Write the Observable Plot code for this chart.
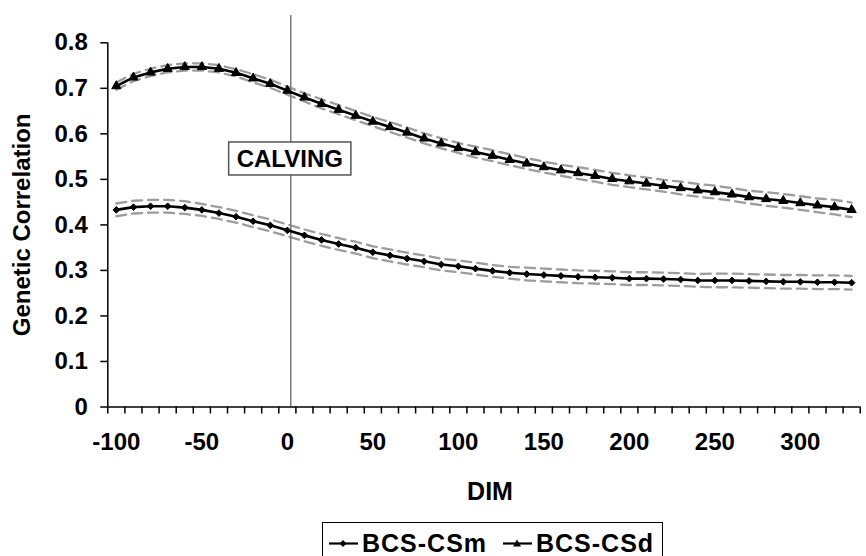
<!DOCTYPE html>
<html>
<head>
<meta charset="utf-8">
<script src="https://cdn.jsdelivr.net/npm/d3@7"></script>
<script src="https://cdn.jsdelivr.net/npm/@observablehq/plot@0.6"></script>
<style>
  html, body { margin: 0; padding: 0; background: #fff; }
  #wrap { position: relative; width: 866px; height: 556px; overflow: hidden; font-family: "Liberation Sans", Arial, sans-serif; }
  #legend { position: absolute; left: 322px; top: 522px; width: 341px; height: 44px; border: 1.5px solid #000; background: #fff; box-sizing: border-box; }
  .item { position: absolute; top: 3px; display: flex; align-items: center; font-weight: bold; font-size: 25px; letter-spacing: 1px; color: #000; }
  .item svg { margin-right: 3px; }
</style>
</head>
<body>
<div id="wrap"></div>
<script>
// ---- data ----
const dims = [-100, -90, -80, -70, -60, -50, -40, -30, -20, -10,
  0, 10, 20, 30, 40, 50, 60, 70, 80, 90,
  100, 110, 120, 130, 140, 150, 160, 170, 180, 190,
  200, 210, 220, 230, 240, 250, 260, 270, 280, 290,
  300, 310, 320, 330];

const bcsCSm = [0.433, 0.439, 0.441, 0.441, 0.438, 0.433, 0.426, 0.418, 0.408, 0.399,
  0.388, 0.377, 0.367, 0.358, 0.350, 0.340, 0.333, 0.326, 0.320, 0.313,
  0.309, 0.304, 0.299, 0.295, 0.292, 0.290, 0.288, 0.286, 0.285, 0.284,
  0.282, 0.282, 0.281, 0.280, 0.278, 0.278, 0.278, 0.277, 0.276, 0.275,
  0.275, 0.274, 0.274, 0.273];

const bcsCSd = [0.705, 0.724, 0.735, 0.743, 0.747, 0.747, 0.743, 0.734, 0.722, 0.710,
  0.695, 0.680, 0.666, 0.653, 0.640, 0.627, 0.615, 0.603, 0.590, 0.579,
  0.569, 0.560, 0.552, 0.543, 0.535, 0.527, 0.520, 0.514, 0.508, 0.501,
  0.496, 0.491, 0.486, 0.481, 0.476, 0.472, 0.467, 0.461, 0.457, 0.453,
  0.448, 0.443, 0.439, 0.433];

// standard errors (grey dashed bands)
const seCSm = [0.014, 0.014, 0.014, 0.014, 0.014, 0.013, 0.013, 0.013, 0.013, 0.013,
  0.013, 0.013, 0.013, 0.013, 0.013, 0.013, 0.013, 0.013, 0.013, 0.013,
  0.013, 0.013, 0.013, 0.013, 0.014, 0.014, 0.014, 0.014, 0.014, 0.014,
  0.014, 0.014, 0.014, 0.014, 0.014, 0.015, 0.015, 0.015, 0.015, 0.015,
  0.015, 0.015, 0.015, 0.015];

const seCSd = [0.008, 0.008, 0.008, 0.008, 0.008, 0.008, 0.008, 0.008, 0.009, 0.009,
  0.009, 0.009, 0.010, 0.010, 0.010, 0.010, 0.011, 0.011, 0.011, 0.011,
  0.011, 0.012, 0.012, 0.012, 0.012, 0.012, 0.012, 0.013, 0.013, 0.013,
  0.013, 0.013, 0.013, 0.014, 0.014, 0.014, 0.014, 0.014, 0.015, 0.015,
  0.015, 0.015, 0.016, 0.016];

const seriesNames = ["BCS-CSm", "BCS-CSd"];
const xTickLabels = [-100, -50, 0, 50, 100, 150, 200, 250, 300];
const yTicks = [0, 0.1, 0.2, 0.3, 0.4, 0.5, 0.6, 0.7, 0.8];
const calvingDIM = [2];
const calvingLabel = ["CALVING"];
const calvingLabelY = [0.543];
const xTitle = "DIM";
const yTitle = "Genetic Correlation";

// ---- build rows ----
const seriesDefs = [
  {name: seriesNames[0], values: bcsCSm, se: seCSm},
  {name: seriesNames[1], values: bcsCSd, se: seCSd}
];
const rows = seriesDefs.flatMap(s => dims.map((d, i) => ({
  dim: d, v: s.values[i], se: s.se[i], series: s.name
})));
// category boundaries (Excel tick marks sit between categories)
const catEdges = dims.map(d => d - 5).concat([dims[dims.length - 1] + 5]);

const FONT = "Liberation Sans, Arial, sans-serif";

const chart = Plot.plot({
  width: 866,
  height: 516,
  marginLeft: 107.3,
  marginRight: 6.3,
  marginTop: 42.3,
  marginBottom: 109.5,
  style: {fontFamily: FONT, fontSize: "24px", fontWeight: "bold", background: "#fff", color: "#000", overflow: "visible"},
  x: {domain: [catEdges[0], catEdges[catEdges.length - 1]]},
  y: {domain: [0, 0.8]},
  marks: [
    // SE bands
    Plot.line(rows, {x: "dim", y: d => d.v + d.se, z: "series", stroke: "#9c9c9c", strokeWidth: 2.3, strokeDasharray: "10,6"}),
    Plot.line(rows, {x: "dim", y: d => d.v - d.se, z: "series", stroke: "#9c9c9c", strokeWidth: 2.3, strokeDasharray: "10,6"}),
    // calving rule
    Plot.ruleX(calvingDIM, {y1: 0, y2: 0.86, stroke: "#7a7a7a", strokeWidth: 1.5}),
    // axes lines
    Plot.ruleY([0], {stroke: "#000", strokeWidth: 1.5}),
    Plot.ruleX([catEdges[0]], {y1: 0, y2: 0.8, stroke: "#000", strokeWidth: 1.5}),
    // series
    Plot.line(rows, {x: "dim", y: "v", z: "series", stroke: "#000", strokeWidth: 2.6}),
    Plot.dot(rows.filter(d => d.series === seriesNames[0]), {x: "dim", y: "v", symbol: () => "diamond2", r: 3, fill: "#000", stroke: "#000", strokeWidth: 1}),
    Plot.dot(rows.filter(d => d.series === seriesNames[1]), {x: "dim", y: "v", symbol: () => "triangle", r: 3.4, fill: "#000", stroke: "#000", strokeWidth: 1}),
    // x axis: minor ticks at category edges, labels at category centres
    Plot.axisX({ticks: catEdges, tickSize: 7, tickFormat: () => "", stroke: "#000", strokeWidth: 1.5, label: null}),
    Plot.axisX({ticks: xTickLabels, tickSize: 0, tickPadding: 26, tickFormat: d => String(d), fontSize: 24, fontWeight: "bold", label: null}),
    // y axis
    Plot.axisY({ticks: yTicks, tickSize: 7, tickPadding: 13, tickFormat: d => d === 0 ? "0" : d.toFixed(1), stroke: "#000", strokeWidth: 1.5, fontSize: 24, fontWeight: "bold", label: null}),
    // axis titles
    Plot.text([xTitle], {frameAnchor: "bottom", dx: 6, dy: 84.5, text: d => d, fontSize: 25, fontWeight: "bold", textAnchor: "middle", lineAnchor: "middle"}),
    Plot.text([yTitle], {frameAnchor: "left", dx: -85.6, text: d => d, rotate: -90, fontSize: 24, fontWeight: "bold", textAnchor: "middle", lineAnchor: "middle"}),
    // calving label
    Plot.text(calvingLabel, {x: () => calvingDIM[0], y: (d, i) => calvingLabelY[i], text: d => d, dx: -1, fontSize: 24, fontWeight: "bold", textAnchor: "middle", lineAnchor: "middle", className: "calving"})
  ]
});

const wrap = document.getElementById("wrap");
wrap.appendChild(chart);

// white box behind the CALVING label
const t = chart.querySelector("g.calving text");
if (t) {
  const bb = t.getBBox();
  const g = t.parentNode;
  const ns = "http://www.w3.org/2000/svg";
  const rect = document.createElementNS(ns, "rect");
  const ctm = t.getAttribute("transform");
  rect.setAttribute("x", bb.x - 8);
  rect.setAttribute("width", bb.width + 16);
  rect.setAttribute("y", bb.y + bb.height / 2 - 17);
  rect.setAttribute("height", 33);
  if (ctm) rect.setAttribute("transform", ctm);
  rect.setAttribute("fill", "#fff");
  rect.setAttribute("stroke", "#555");
  rect.setAttribute("stroke-width", "1.5");
  g.insertBefore(rect, t);
}

// legend
const legend = document.createElement("div");
legend.id = "legend";
const legendItems = [
  {name: seriesNames[0], symbol: "diamond", left: 5},
  {name: seriesNames[1], symbol: "triangle", left: 179}
];
legendItems.forEach(it => {
  const div = document.createElement("div");
  div.className = "item";
  div.style.left = it.left + "px";
  const marker = it.symbol === "diamond"
    ? '<path d="M15,14 L18.5,17.5 L15,21 L11.5,17.5 Z" fill="#000"/>'
    : '<path d="M15,13.5 L19,20.5 L11,20.5 Z" fill="#000"/>';
  div.innerHTML = '<svg width="31" height="34"><line x1="1" x2="30" y1="17.5" y2="17.5" stroke="#000" stroke-width="2.2"/>' + marker + '</svg><span>' + it.name + '</span>';
  legend.appendChild(div);
});
wrap.appendChild(legend);
</script>
</body>
</html>
